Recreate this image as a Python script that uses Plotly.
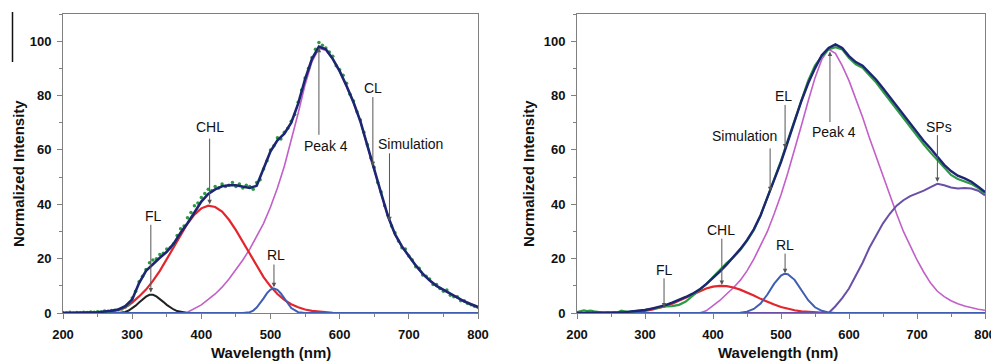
import plotly.graph_objects as go

# ---------------- data: left panel (CL) ----------------
wl10 = list(range(200, 801, 10))
wl5 = list(range(200, 801, 5))

sim_L = [0, 0, 0, 0.1, 0.2, 0.3, 0.5, 0.8, 1.3, 2.5,
         5, 11, 15.5, 18, 20.3, 22.5, 25.5, 29.5, 33, 37,
         41, 43.8, 45.5, 46.6, 47, 47, 46.4, 46, 46.8, 53,
         59.5, 63.5, 66, 70, 77, 86, 93.5, 98, 97, 93.5,
         89, 83.5, 77.5, 70.5, 61.5, 52.5, 44, 35.5, 29, 24.5,
         21, 17.5, 14.5, 12, 10, 8.5, 7, 5.5, 4.3, 3.2,
         2.2]

exp_L = [0.2, 0.1, 0.3, 0.0, 0.2, 0.1, 0.3, 0.2, 0.4, 0.3,
         0.5, 0.4, 0.7, 0.6, 0.9, 1.0, 1.2, 1.5, 2.2, 3.0,
         5.5, 8.0, 11.5, 13.5, 16.0, 18.5, 19.5, 20.0, 21.5, 22.0,
         23.5, 24.0, 25.5, 28.5, 31.0, 32.0, 35.0, 37.0, 39.5, 40.5,
         42.5, 44.0, 45.5, 45.0, 46.5, 46.0, 47.5, 46.5, 47.0, 48.0,
         46.5, 47.5, 46.0, 47.0, 46.5, 45.5, 48.0, 49.0, 53.0, 56.0,
         60.0, 61.5, 64.5, 64.0, 66.5, 68.0, 70.5, 73.0, 77.5, 82.0,
         86.5, 90.0, 94.0, 97.0, 99.5, 98.5, 97.5, 96.0, 94.5, 91.0,
         89.5, 87.5, 84.5, 80.5, 78.0, 74.0, 71.0, 66.5, 62.0, 57.0,
         53.5, 48.0, 44.5, 39.5, 36.0, 32.0, 29.5, 26.5, 24.0, 23.5,
         21.0, 19.5, 17.0, 16.5, 14.0, 13.5, 12.5, 10.5, 10.5, 9.0,
         8.0, 8.5, 6.5, 6.0, 6.0, 4.5, 4.5, 3.5, 3.0, 2.5,
         2.0]

peak4_L = [0] * 17 + [0, 0.3, 1.5, 3, 5, 7, 9.5, 12.5, 16, 19.5,
                      23.5, 28, 33, 39, 46, 54, 63.5, 73.5, 84, 92.5,
                      97.3, 96.7, 93.3, 88.8, 83.3, 77.3, 70.3, 61.3, 52.3, 43.8,
                      35.3, 28.8, 24.3, 20.8, 17.3, 14.3, 11.8, 9.8, 8.3, 6.8,
                      5.3, 4.1, 3.0, 2.0]

chl_L = [0, 0, 0, 0, 0.1, 0.2, 0.3, 0.6, 1.0, 2.0,
         3.8, 6.1, 8.6, 11.8, 15.5, 19.8, 24.3, 28.7, 32.9, 36.2,
         38.5, 39.5, 39.0, 37.3, 34.3, 30.5, 26.1, 21.5, 17.2, 13.2,
         9.8, 7.0, 4.8, 3.2, 2.1, 1.3, 0.8, 0.5, 0.3, 0.1] + [0] * 21

fl_L_x = list(range(280, 381, 5))
fl_L = [0, 0.1, 0.4, 0.9, 1.7, 2.7, 3.9, 5.0, 6.0, 6.7, 6.7,
        6.1, 5.2, 4.1, 3.0, 2.0, 1.3, 0.7, 0.4, 0.1, 0]

rl_L_x = [200, 460, 470, 475, 480, 485, 490, 495, 500, 505, 510,
          515, 520, 525, 530, 540, 550, 800]
rl_L = [0, 0, 0.3, 0.9, 2.0, 3.6, 5.4, 7.3, 8.6, 9.0, 8.5,
        7.2, 5.3, 3.4, 1.8, 0.3, 0, 0]

# ---------------- data: right panel (EL) ----------------
sim_R = [0, 0, 0, 0, 0.1, 0.1, 0.2, 0.3, 0.5, 0.8,
         1.1, 1.6, 2.2, 2.9, 3.8, 4.8, 5.9, 7.1, 8.6, 10.6,
         12.8, 15.2, 17.8, 20.6, 23.5, 26.8, 30.8, 36, 42.3, 48.5,
         55.5, 63, 70.5, 78, 84.5, 90, 94.8, 97.5, 98.8, 97.5,
         94.5, 92.3, 91, 88.5, 85.8, 82.7, 79.5, 76.2, 72.8, 69.5,
         66.3, 63.3, 60.5, 57.5, 54.5, 52.2, 50.5, 49.5, 48.3, 46.5,
         44.5]

exp_R_x = list(range(200, 300, 5)) + list(range(300, 801, 10))
exp_R = [0.3, 0.8, 1.0, 0.7, 0.9, 0.6, 0.4, 0.2, 0.1, 0.2,
         0.1, 0.3, 0.2, 0.9, 0.7, 0.3, 0.5, 0.6, 0.8, 1.0,
         1.1, 1.6, 2.1, 2.4, 2.5, 3.0, 4.2, 6.3, 8.6, 10.6,
         13.2, 15.8, 18.4, 20.5, 23.2, 26.5, 30.5, 35.8, 42.5, 49.0,
         56.0, 63.5, 71.0, 78.5, 85.5, 91.0, 94.5, 97.0, 97.8, 97.0,
         93.8, 91.5, 90.2, 87.5, 84.8, 81.5, 78.2, 75.0, 71.5, 68.2,
         65.0, 62.0, 59.0, 56.3, 53.2, 50.8, 49.3, 48.5, 47.5, 46.0,
         44.0]

peak4_R = [0] * 19 + [0.8, 2.8, 4.6, 7.0, 9.3, 12.0, 15.5, 19.8, 25, 30,
                      36.5, 43.5, 51.5, 60, 69, 78, 86.5, 93.3, 97, 95.5,
                      91, 85.5, 79, 72, 64.5, 57.3, 50.3, 43.5, 36.5, 30,
                      24.5, 19.5, 15, 11, 8, 6, 4.5, 3.4, 2.6, 1.9,
                      1.4, 1.0]

chl_R = [0] * 6 + [0.1, 0.2, 0.3, 0.5, 0.8, 1.2, 1.8, 2.5, 3.4, 4.5,
                   5.6, 6.8, 8.0, 9.0, 9.7, 10.0, 9.9, 9.4, 8.6, 7.6,
                   6.4, 5.2, 4.1, 3.1, 2.2, 1.5, 1.0, 0.6, 0.4, 0.2,
                   0.1] + [0] * 24

rl_R_x = [200, 430, 440, 450, 460, 470, 480, 490, 500, 505, 510,
          520, 530, 540, 550, 560, 570, 580, 800]
rl_R = [0, 0, 0.1, 0.5, 1.5, 3.5, 6.8, 10.8, 13.8, 14.4, 14.3,
        12.2, 8.4, 4.7, 2.1, 0.8, 0.2, 0, 0]

sps_R_x = [200] + list(range(570, 801, 10))
sps_R = [0, 0, 2.5, 5.5, 9, 13.5, 18.5, 24, 28.5, 33, 36.5,
         39.5, 41.5, 43, 44, 45, 46.3, 47.5, 47, 46.2, 45.8,
         46, 45.8, 45, 43.3]

x_ticks = [200, 300, 400, 500, 600, 700, 800]
y_ticks = [0, 20, 40, 60, 80, 100]

# ---------------- styles ----------------
NAVY = "#1c2672"
GREEN = "#2e9a45"
RED = "#e3262b"
MAG = "#c25fc9"
BLUE = "#3e5db3"
PURP = "#6a4fa8"
BLACK = "#222222"
FONT = "Liberation Sans, Arial, sans-serif"

# page has an 8px body margin: figure origin sits at page (8, 8)
OFF = 8.0
FW, FH = 991, 355
PLOT_TOP, PLOT_BOT = 14.0, 313.0   # page pixels
H = PLOT_BOT - PLOT_TOP

def px(xp):   # page x -> paper fraction
    return (xp - OFF) / FW

def py(yp):   # page y -> paper fraction
    return (PLOT_BOT - yp) / H

fig = go.Figure()

def line(x, y, color, width, xa, ya):
    fig.add_trace(go.Scatter(x=x, y=y, mode="lines", xaxis=xa, yaxis=ya,
                             line=dict(color=color, width=width),
                             showlegend=False, hoverinfo="skip"))

# left panel
line(wl10, peak4_L, MAG, 1.6, "x", "y")
line(wl10, chl_L, RED, 2.2, "x", "y")
line(fl_L_x, fl_L, BLACK, 2.0, "x", "y")
line(rl_L_x, rl_L, BLUE, 2.0, "x", "y")
fig.add_trace(go.Scatter(x=wl5, y=exp_L, mode="markers", xaxis="x", yaxis="y",
                         marker=dict(color=GREEN, size=3.5),
                         showlegend=False, hoverinfo="skip"))
line(wl10, sim_L, NAVY, 2.6, "x", "y")

# right panel
line(wl10, peak4_R, MAG, 1.6, "x2", "y2")
line(wl10, chl_R, RED, 2.2, "x2", "y2")
line(sps_R_x, sps_R, PURP, 2.0, "x2", "y2")
line(rl_R_x, rl_R, BLUE, 2.0, "x2", "y2")
line(exp_R_x, exp_R, GREEN, 2.2, "x2", "y2")
line(wl10, sim_R, NAVY, 2.4, "x2", "y2")

axis_common = dict(showgrid=False, zeroline=False, showline=True, linecolor="#808080",
                   linewidth=1, mirror=True, ticks="outside", tickcolor="#808080",
                   ticklen=5, tickwidth=1, automargin=False,
                   tickfont=dict(family=FONT, size=13, color="#111", weight="bold"))

xa = dict(axis_common, range=[200, 800], tickvals=x_ticks, ticklabelstandoff=4,
          minor=dict(ticks="outside", dtick=50, ticklen=3, tickcolor="#808080"))
ya = dict(axis_common, range=[0, 110], tickvals=y_ticks, ticklabelstandoff=3,
          minor=dict(ticks="outside", dtick=10, ticklen=3, tickcolor="#808080"))

fig.update_layout(
    width=FW, height=FH,
    margin=dict(l=0, r=0, t=PLOT_TOP - OFF, b=FH - (PLOT_BOT - OFF)),
    paper_bgcolor="white", plot_bgcolor="white",
    xaxis=dict(xa, domain=[px(63), px(478)], anchor="y"),
    yaxis=dict(ya, domain=[0, 1], anchor="x"),
    xaxis2=dict(xa, domain=[px(577), px(985)], anchor="y2"),
    yaxis2=dict(ya, domain=[0, 1], anchor="x2"),
)

ann = []

def label(text, x, y, xr, yr, size=14):
    ann.append(dict(text=text, x=x, y=y, xref=xr, yref=yr, showarrow=False,
                    xanchor="center", yanchor="middle",
                    font=dict(family=FONT, size=size, color="#111")))

def arrow(x, tail, tip, xr, yr):
    ann.append(dict(text="", x=x, y=tip, ax=x, ay=tail, xref=xr, yref=yr,
                    axref=xr, ayref=yr, showarrow=True, arrowhead=2,
                    arrowsize=0.9, arrowwidth=1, arrowcolor="#555", standoff=0,
                    startstandoff=0))

# left annotations
label("FL", 331, 35.7, "x", "y")
arrow(327, 33, 7.5, "x", "y")
label("CHL", 412.5, 68.5, "x", "y")
arrow(412, 64.7, 40, "x", "y")
label("RL", 508, 21.3, "x", "y")
arrow(505, 18.4, 9.5, "x", "y")
label("Peak 4", 580.5, 61.4, "x", "y")
arrow(570, 65, 97.6, "x", "y")
label("CL", 648.6, 82.8, "x", "y")
arrow(648, 80, 54, "x", "y")
label("Simulation", 702.7, 62.1, "x", "y")
arrow(672, 59.3, 33.8, "x", "y")

# right annotations
label("FL", 328.4, 15.9, "x2", "y2")
arrow(328, 13.3, 2.0, "x2", "y2")
label("CHL", 411.8, 30.6, "x2", "y2")
arrow(413, 27.9, 10.3, "x2", "y2")
label("RL", 505.9, 25.2, "x2", "y2")
arrow(506, 22.4, 14.6, "x2", "y2")
label("Simulation", 447, 65, "x2", "y2")
arrow(484, 61.1, 44.8, "x2", "y2")
label("EL", 504.4, 79.8, "x2", "y2")
arrow(506, 77.1, 60.5, "x2", "y2")
label("Peak 4", 578, 66.7, "x2", "y2")
arrow(572, 69.7, 96.2, "x2", "y2")
label("SPs", 731.9, 68.3, "x2", "y2")
arrow(730, 66, 48.2, "x2", "y2")

# axis titles
for xc in (18, 528):
    ann.append(dict(text="<b>Normalized Intensity</b>", x=px(xc), y=py(174),
                    xref="paper", yref="paper", showarrow=False, textangle=-90,
                    xanchor="center", yanchor="middle",
                    font=dict(family=FONT, size=15, color="#111")))
for xc in (271, 778):
    ann.append(dict(text="<b>Wavelength (nm)</b>", x=px(xc), y=py(362.5),
                    xref="paper", yref="paper", showarrow=False,
                    xanchor="center", yanchor="bottom",
                    font=dict(family=FONT, size=15, color="#111")))

fig.update_layout(annotations=ann)

fig.add_shape(type="line", xref="paper", yref="paper",
              x0=px(12.5), x1=px(12.5), y0=py(12), y1=py(62),
              line=dict(color="#111", width=1.5))

fig.write_html("out.html")
